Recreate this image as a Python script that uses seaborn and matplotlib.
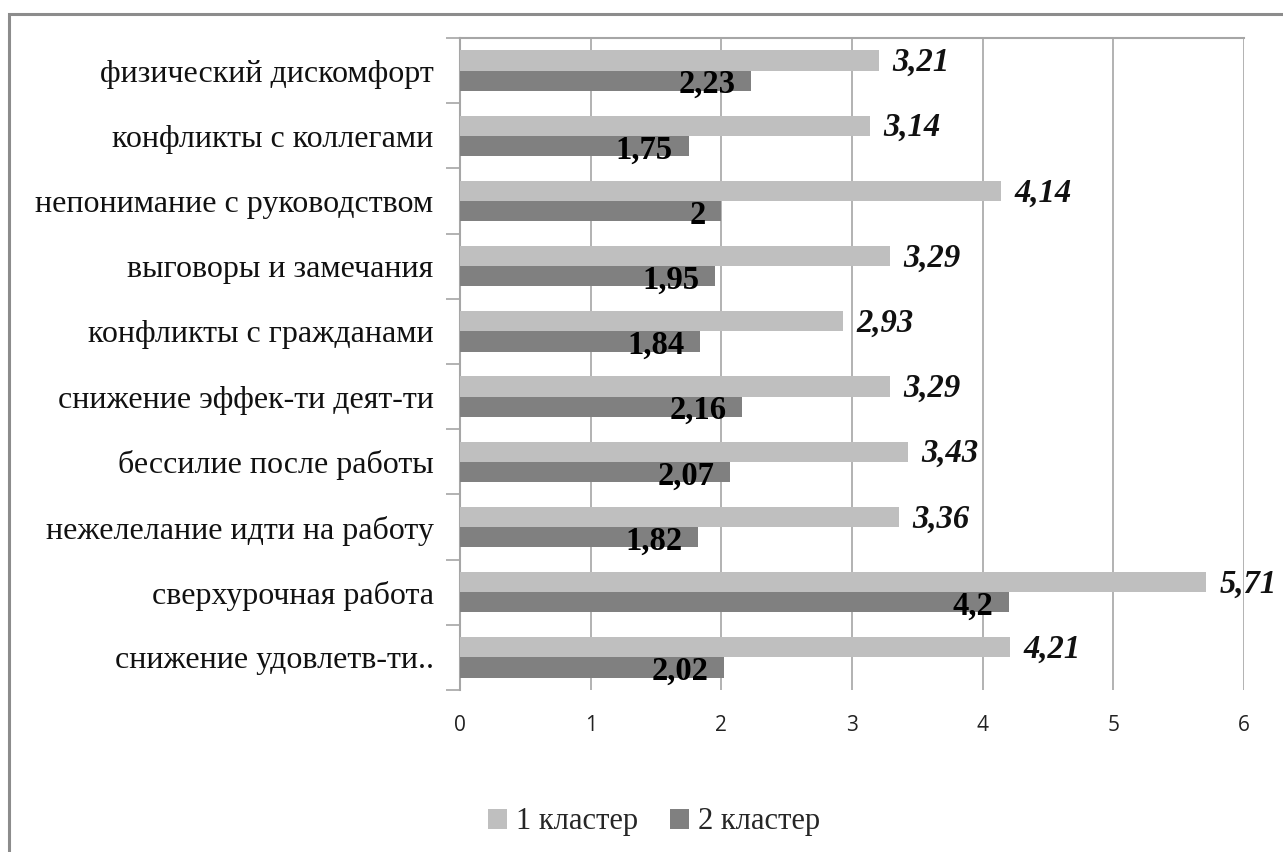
import matplotlib
matplotlib.use("Agg")
import matplotlib.pyplot as plt
import seaborn as sns
import pandas as pd
from matplotlib.patches import Rectangle, Patch

categories = [
    "физический дискомфорт",
    "конфликты с коллегами",
    "непонимание с руководством",
    "выговоры и замечания",
    "конфликты с гражданами",
    "снижение эффек-ти деят-ти",
    "бессилие после работы",
    "нежелелание идти на работу",
    "сверхурочная работа",
    "снижение удовлетв-ти..",
]
cluster1 = [3.21, 3.14, 4.14, 3.29, 2.93, 3.29, 3.43, 3.36, 5.71, 4.21]
cluster2 = [2.23, 1.75, 2.00, 1.95, 1.84, 2.16, 2.07, 1.82, 4.20, 2.02]
series_names = ["1 кластер", "2 кластер"]
x_ticks = [0, 1, 2, 3, 4, 5, 6]

colors = ["#BFBFBF", "#808080"]
grid_color = "#A6A6A6"

df = pd.DataFrame({
    "category": categories * 2,
    "value": cluster1 + cluster2,
    "series": [series_names[0]] * len(categories) + [series_names[1]] * len(categories),
})

sns.set_theme(style="white")
plt.rcParams["font.family"] = ["Liberation Serif", "DejaVu Serif"]

fig = plt.figure(figsize=(12.83, 8.52), dpi=100)
ax = fig.add_axes([460 / 1283, 1 - 690 / 852, 784 / 1283, 652 / 852])

sns.barplot(data=df, y="category", x="value", hue="series", order=categories,
            hue_order=series_names, palette=colors, orient="h", width=0.62,
            saturation=1, ax=ax, legend=False, edgecolor="none", zorder=3)

ax.set_xlim(0, 6)
ax.set_ylim(len(categories) - 0.5, -0.5)
ax.set_xticks(x_ticks)
ax.set_xticklabels([str(t) for t in x_ticks], family="Open Sans", fontsize=15, color="#222222")
ax.tick_params(axis="x", length=0, pad=18)
ax.set_xlabel("")
ax.set_ylabel("")

# category labels sit between tick marks placed at the group boundaries
ax.set_yticks([i - 0.5 for i in range(len(categories) + 1)])
ax.set_yticklabels([])
ax.set_yticks(range(len(categories)), minor=True)
ax.set_yticklabels(categories, minor=True, fontsize=23, color="#111111")
ax.tick_params(axis="y", which="major", length=10, width=1.2, color=grid_color, left=True)
ax.tick_params(axis="y", which="minor", length=0, pad=19)

for x in x_ticks[1:]:
    ax.axvline(x, color=grid_color, lw=1.2, zorder=1)

for side in ["right", "bottom"]:
    ax.spines[side].set_visible(False)
ax.spines["left"].set_color(grid_color)
ax.spines["left"].set_linewidth(1.5)
ax.spines["top"].set_color(grid_color)
ax.spines["top"].set_linewidth(1.5)

def fmt(v):
    return f"{v:g}".replace(".", ",")

half = 0.62 / 4
for i, (v1, v2) in enumerate(zip(cluster1, cluster2)):
    ax.text(v1 + 0.1, i - half + 0.03, fmt(v1), ha="left", va="center",
            fontsize=23.5, fontweight="bold", fontstyle="italic", color="#111111", zorder=4)
    ax.text(v2 - 0.12, i + half + 0.06, fmt(v2), ha="right", va="center",
            fontsize=23.5, fontweight="bold", color="#000000", zorder=4)

handles = [Patch(facecolor=c, edgecolor="none") for c in colors]
fig.legend(handles, series_names, loc="center", bbox_to_anchor=(654 / 1283, 1 - 822 / 852),
           ncol=2, frameon=False, fontsize=22, handlelength=0.62, handleheight=0.62,
           handletextpad=0.3, columnspacing=1.05)

# outer chart frame
fig.patches.append(Rectangle((9 / 1283, -0.05), 1.2, 1 - 14 / 852 + 0.05,
                             transform=fig.transFigure, fill=False,
                             edgecolor="#8C8C8C", lw=2.2, zorder=0))

fig.savefig("out.png", dpi=100)
